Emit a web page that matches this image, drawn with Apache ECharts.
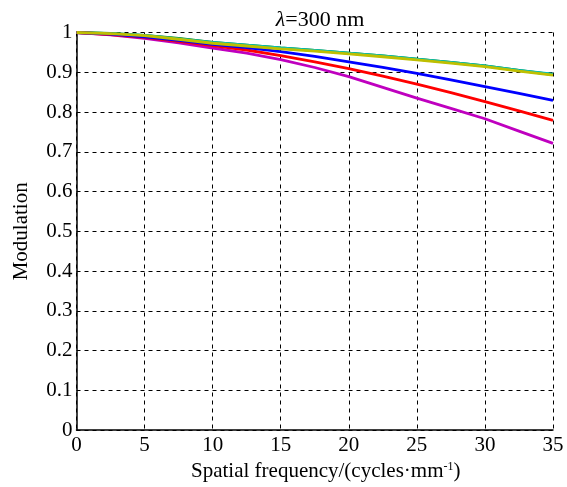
<!DOCTYPE html>
<html><head><meta charset="utf-8">
<script src="https://cdn.jsdelivr.net/npm/echarts@6/dist/echarts.min.js"></script>
<style>html,body{margin:0;padding:0;background:#fff}#c{width:567px;height:487px}</style>
</head><body><div id="c"></div>
<script>
var freq = [0,2.5,5,7.5,10,12.5,15,17.5,20,22.5,25,27.5,30,32.5,35];
var green   = [1,0.998,0.993,0.985,0.975,0.968,0.961,0.955,0.948,0.941,0.933,0.925,0.916,0.905,0.894];
var cyan    = [1,0.997,0.993,0.984,0.975,0.968,0.961,0.955,0.948,0.941,0.933,0.925,0.916,0.905,0.895];
var yellow  = [1,0.997,0.992,0.983,0.973,0.966,0.959,0.953,0.946,0.939,0.931,0.923,0.914,0.903,0.893];
var blue    = [1,0.996,0.989,0.980,0.970,0.962,0.952,0.940,0.926,0.912,0.897,0.881,0.864,0.847,0.829];
var red     = [1,0.995,0.988,0.978,0.967,0.956,0.942,0.926,0.909,0.890,0.870,0.849,0.826,0.803,0.779];
var magenta = [1,0.994,0.985,0.974,0.961,0.948,0.932,0.912,0.889,0.862,0.835,0.809,0.783,0.752,0.721];
var xTicks = [0,5,10,15,20,25,30,35];
var yTickLabels = {0:'0',0.1:'0.1',0.2:'0.2',0.3:'0.3',0.4:'0.4',0.5:'0.5',0.6:'0.6',0.7:'0.7',0.8:'0.8',0.9:'0.9',1:'1'};

function pairs(ys){return freq.map(function(f,i){return [f,ys[i]];});}
var FONT = '"Liberation Serif","Times New Roman",serif';
function mk(name,data,color){
  return {name:name,type:'line',data:pairs(data),showSymbol:false,smooth:false,
    lineStyle:{color:color,width:2.8},itemStyle:{color:color},z:3};
}
var chart = echarts.init(document.getElementById('c'),null,{renderer:'canvas'});
chart.setOption({
  backgroundColor:'#fff',
  animation:false,
  title:{text:'{i|λ}=300 nm',left:315,top:4,textAlign:'center',
    textStyle:{fontFamily:FONT,fontSize:22,fontWeight:'normal',color:'#000',
      rich:{i:{fontFamily:FONT,fontSize:22,fontStyle:'italic',color:'#000'}}}},
  grid:{left:76.5,right:14,top:32.5,bottom:52.5,show:false},
  xAxis:{type:'value',min:0,max:35,interval:5,
    name:'Spatial frequency/(cycles·mm{s|-1})',nameLocation:'middle',nameGap:23,
    nameTextStyle:{fontFamily:FONT,fontSize:21,color:'#000',padding:[0,0,0,22],
      rich:{s:{fontFamily:FONT,fontSize:12,verticalAlign:'top',padding:[0,0,9,0],color:'#000'}}},
    axisLine:{show:true,onZero:false,lineStyle:{color:'#000',width:1.5}},
    axisTick:{show:false},
    axisLabel:{fontFamily:FONT,fontSize:21,color:'#000',margin:5,
      formatter:function(v){return xTicks.indexOf(v)>=0?String(v):'';}},
    splitLine:{show:true,lineStyle:{color:'#000',type:[4,4],width:1}}
  },
  yAxis:{type:'value',min:0,max:1,interval:0.1,
    name:'Modulation',nameLocation:'middle',nameGap:45,
    nameTextStyle:{fontFamily:FONT,fontSize:21,color:'#000'},
    axisLine:{show:true,onZero:false,lineStyle:{color:'#000',width:1.5}},
    axisTick:{show:false},
    axisLabel:{fontFamily:FONT,fontSize:21,color:'#000',margin:4,
      formatter:function(v){var k=Math.round(v*10)/10;return yTickLabels[k]!==undefined?yTickLabels[k]:'';}},
    splitLine:{show:true,lineStyle:{color:'#000',type:[4,4],width:1}}
  },
  series:[
    mk('green',green,'#008000'),
    mk('cyan',cyan,'#00bfbf'),
    mk('magenta',magenta,'#bf00bf'),
    mk('red',red,'#ff0000'),
    mk('blue',blue,'#0000ff'),
    mk('yellow',yellow,'#bfbf00')
  ]
});
</script></body></html>
